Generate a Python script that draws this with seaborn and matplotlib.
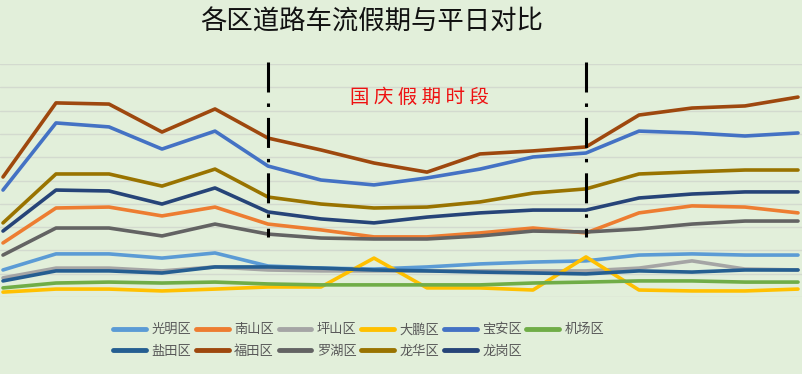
import matplotlib
matplotlib.use("Agg")
import matplotlib.pyplot as plt
import seaborn as sns
import pandas as pd

sns.set_style("white")
plt.rcParams["font.family"] = ["Noto Sans CJK SC", "DejaVu Sans"]
plt.rcParams["lines.scale_dashes"] = False

bg = "#E2EFDA"

# 16 time points, holiday from point 5 to point 11
days = list(range(16))
holiday = [5, 11]

guangming = [116, 185, 185, 167, 189, 133, 124, 120, 129, 142, 150, 155, 180, 185, 180, 180]
nanshan = [232, 382, 386, 348, 386, 313, 288, 258, 258, 275, 296, 275, 361, 391, 386, 361]
pingshan = [82, 124, 124, 112, 129, 116, 112, 112, 112, 112, 112, 112, 124, 155, 120, 116]
dapeng = [21, 34, 34, 26, 34, 43, 43, 167, 39, 39, 30, 172, 30, 26, 26, 34]
baoan = [459, 747, 730, 635, 712, 562, 502, 481, 511, 549, 601, 618, 712, 704, 691, 704]
jichang = [39, 60, 64, 60, 64, 56, 52, 52, 52, 52, 60, 64, 69, 69, 64, 64]
yantian = [69, 112, 112, 103, 129, 129, 124, 116, 112, 107, 103, 99, 112, 107, 116, 116]
futian = [515, 833, 828, 708, 807, 682, 631, 575, 536, 614, 627, 644, 781, 811, 820, 858]
luohu = [180, 296, 296, 262, 313, 270, 253, 249, 249, 262, 283, 279, 292, 313, 326, 326]
longhua = [318, 528, 528, 476, 549, 429, 399, 382, 386, 408, 446, 464, 528, 537, 545, 545]
longgang = [283, 459, 455, 399, 468, 365, 335, 318, 343, 361, 373, 373, 425, 442, 451, 451]

names = ["光明区", "南山区", "坪山区", "大鹏区", "宝安区", "机场区",
         "盐田区", "福田区", "罗湖区", "龙华区", "龙岗区"]
series = [guangming, nanshan, pingshan, dapeng, baoan, jichang,
          yantian, futian, luohu, longhua, longgang]
colors = ["#5B9BD5", "#ED7D31", "#A5A5A5", "#FFC000", "#4472C4", "#70AD47",
          "#255E91", "#9E480E", "#636363", "#997300", "#264478"]

rows = []
for n, vals in zip(names, series):
    for d, v in zip(days, vals):
        rows.append({"day": d, "district": n, "flow": v})
df = pd.DataFrame(rows)

fig = plt.figure(figsize=(8.02, 3.74), dpi=100, facecolor=bg)
ax = fig.add_axes([0, 77 / 374, 1, 233 / 374])
ax.set_facecolor(bg)

sns.lineplot(data=df, x="day", y="flow", hue="district", hue_order=names,
             palette=dict(zip(names, colors)), linewidth=2.6, ax=ax,
             legend=False)

ax.set_xlim(-3 / 53, 15 + 4 / 53)
ax.set_ylim(0, 1000)
ax.set_yticks(range(0, 1001, 100))
ax.set_xticks([])
ax.yaxis.grid(True, color="#D3DACF", linewidth=1)
ax.set_axisbelow(True)
ax.tick_params(left=False, labelleft=False)
ax.set(xlabel="", ylabel="")
sns.despine(ax=ax, left=True, bottom=True)

for h in holiday:
    ax.plot([h, h], [1010, 258], color="black", linewidth=2.2,
            linestyle=(0, (21.6, 7.9, 2.5, 7.9)), clip_on=False, zorder=5)

fig.text(372 / 802, 1 - 22 / 374, "各区道路车流假期与平日对比",
         ha="center", va="center", fontsize=19, color="#111111")
fig.text(419 / 802, 1 - 97 / 374, "国 庆 假 期 时 段",
         ha="center", va="center", fontsize=14, color="#EE1111")

# legend fills column by column; reorder so it reads row by row
handles = [plt.Line2D([], [], color=c, linewidth=3.5, solid_capstyle="round")
           for c in colors]
order = [0, 6, 1, 7, 2, 8, 3, 9, 4, 10, 5]
fig.legend([handles[i] for i in order], [names[i] for i in order],
           loc="upper left",
           bbox_to_anchor=(104 / 802, 1 - 314 / 374), ncol=6, frameon=False,
           fontsize=9.5, handlelength=2.5, handletextpad=0.4,
           columnspacing=0.35, labelspacing=0.65, labelcolor="#595959",
           borderpad=0.2)

fig.savefig("out.png", dpi=100, facecolor=bg)
